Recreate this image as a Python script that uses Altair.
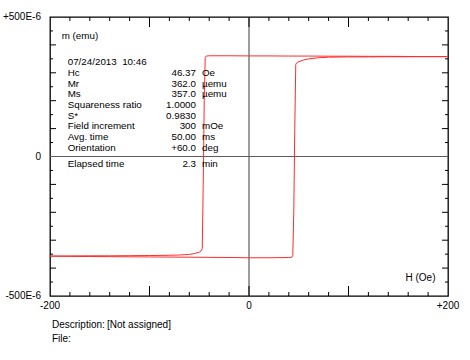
import altair as alt
import pandas as pd

# ---- data (field in Oe, moment in µemu) ----
H_desc = [200, 180, 160, 140, 120, 100, 80, 60, 40, 20, 0, -20, -40, -43, -44, -45, -46, -47,
          -48, -50, -55, -60, -70, -80, -100, -120, -140, -160, -180, -200]
M_desc = [358, 358, 358.5, 359, 359, 359.5, 359.5, 360, 360, 360.5, 360.5, 361, 361, 360, 355, 200, -100, -330,
          -338, -343, -348, -351, -353, -354, -355, -355.5, -356, -356, -356.5, -357]
H_asc = [-200, -180, -160, -140, -120, -100, -80, -60, -40, -20, 0, 20, 40, 43, 44, 45, 46, 47,
         48, 50, 55, 60, 70, 80, 100, 120, 140, 160, 180, 200]
M_asc = [-357, -358, -358.5, -359, -359.5, -360, -360.5, -361, -361.5, -362, -363, -363, -362, -361, -355, -200, 100, 330,
         336, 340, 346, 350, 354, 356, 357, 357, 357.5, 357.5, 358, 358]

x_major = [-100, 0, 100]
x_minor = [-180, -160, -140, -120, -80, -60, -40, -20, 20, 40, 60, 80, 120, 140, 160, 180]
y_major = [-400, -300, -200, -100, 100, 200, 300, 400]
y_minor = [-450, -350, -250, -150, -50, 50, 150, 250, 350, 450]

x_label_vals = [-200, 0, 200]
x_label_text = ["-200", "0", "+200"]
y_label_vals = [500, 0, -500]
y_label_text = ["+500E-6", "0", "-500E-6"]

NB = "\u00a0"
info_labels = ["07/24/2013" + NB + NB + "10:46", "Hc", "Mr", "Ms", "Squareness ratio", "S*",
               "Field increment", "Avg. time", "Orientation"]
info_values = ["46.37", "362.0", "357.0", "1.0000", "0.9830", "300", "50.00", "+60.0"]
info_units_a = ["Oe", "µemu", "µemu"]
info_units_b = ["mOe", "ms", "deg"]
elapsed = ["Elapsed time", "2.3", "min"]

W, H = 398, 279
FONT = "Liberation Sans"

n = len(H_desc)
df_line = pd.DataFrame({
    "H": H_desc + H_asc,
    "M": M_desc + M_asc,
    "branch": ["desc"] * n + ["asc"] * len(H_asc),
    "i": list(range(n + len(H_asc))),
})

xs = alt.Scale(domain=[-200, 200], nice=False, zero=False)
ys = alt.Scale(domain=[-500, 500], nice=False, zero=False)

one = pd.DataFrame({"v": [0]})

zero_v = alt.Chart(one).mark_rule(color="#5c5c5c", strokeWidth=1.2).encode(
    x=alt.X("v:Q", scale=xs, axis=None))
zero_h = alt.Chart(one).mark_rule(color="#5c5c5c", strokeWidth=1.2).encode(
    y=alt.Y("v:Q", scale=ys, axis=None))

def xticks(vals, length):
    d = pd.DataFrame({"t": vals})
    b = alt.Chart(d).mark_rule(color="black", strokeWidth=1).encode(
        x=alt.X("t:Q", scale=xs, axis=None), y=alt.value(H), y2=alt.value(H - length))
    t = alt.Chart(d).mark_rule(color="black", strokeWidth=1).encode(
        x=alt.X("t:Q", scale=xs, axis=None), y=alt.value(0), y2=alt.value(length))
    return [b, t]

def yticks(vals, length):
    d = pd.DataFrame({"t": vals})
    l = alt.Chart(d).mark_rule(color="black", strokeWidth=1).encode(
        y=alt.Y("t:Q", scale=ys, axis=None), x=alt.value(0), x2=alt.value(length))
    r = alt.Chart(d).mark_rule(color="black", strokeWidth=1).encode(
        y=alt.Y("t:Q", scale=ys, axis=None), x=alt.value(W), x2=alt.value(W - length))
    return [l, r]

ticks = xticks(x_major, 10) + xticks(x_minor, 4) + yticks(y_major, 6) + yticks(y_minor, 3)

line = alt.Chart(df_line).mark_line(color="#ff2b2b", strokeWidth=1).encode(
    x=alt.X("H:Q", scale=xs, axis=None),
    y=alt.Y("M:Q", scale=ys, axis=None),
    detail="branch:N",
    order="i:Q",
)

xlab = alt.Chart(pd.DataFrame({"v": x_label_vals, "t": x_label_text})).mark_text(
    font=FONT, fontSize=10, color="black", baseline="middle", align="center").encode(
    x=alt.X("v:Q", scale=xs, axis=None), y=alt.value(H + 10), text="t:N")
ylab = alt.Chart(pd.DataFrame({"v": y_label_vals, "t": y_label_text})).mark_text(
    font=FONT, fontSize=10, color="black", baseline="middle", align="right").encode(
    y=alt.Y("v:Q", scale=ys, axis=None), x=alt.value(-9), text="t:N")

def txt(text, x, y, align="left", size=9.8, lh=10.67):
    return alt.Chart(one).mark_text(font=FONT, fontSize=size, color="black", align=align,
                                    baseline="middle", lineHeight=lh).encode(
        x=alt.value(x), y=alt.value(y), text=alt.value(text))

LH = 10.67
blk_lab = txt(info_labels, 17.7, 45.3, lh=LH)
blk_val = txt(info_values, 146, 56, align="right", lh=LH)
blk_unit_a = txt(info_units_a, 152, 56, lh=LH)
blk_unit_b = txt(info_units_b, 152, 56 + 5 * LH, lh=LH)
el1 = txt(elapsed[0], 17.7, 147.3)
el2 = txt(elapsed[1], 146, 147.3, align="right")
el3 = txt(elapsed[2], 152, 147.3)
mlab = txt("m (emu)", 11.7, 18.5)
hlab = txt("H (Oe)", 385.5, 261, align="right", size=10)
desc1 = txt("Description:", 2, 308, size=10)
desc2 = txt("[Not assigned]", 57, 308, size=10)
file1 = txt("File:", 2, 322, size=10)

chart = alt.layer(
    zero_v, zero_h, *ticks, line, xlab, ylab,
    blk_lab, blk_val, blk_unit_a, blk_unit_b, el1, el2, el3, mlab, hlab, desc1, desc2, file1,
).properties(
    width=W, height=H,
    autosize="none",
    padding={"left": 50, "top": 17, "right": 22, "bottom": 64},
    background="white",
).configure_view(stroke="black", strokeWidth=1.3)

chart.save("out.html", embed_options={"renderer": "svg", "actions": False})
